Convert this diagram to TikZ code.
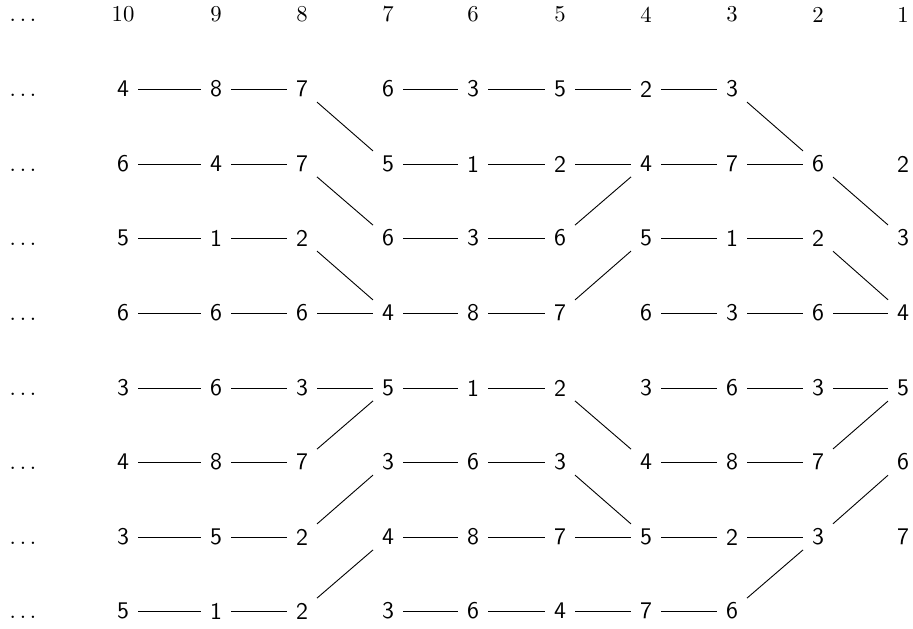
\documentclass[tikz,border=0pt]{standalone}
\begin{document}
\tikzset{
  num/.style={font=\sffamily\fontsize{10.5}{12}\selectfont, inner sep=0pt, minimum width=12.8pt, minimum height=12.4pt},
  hdr/.style={font=\rmfamily, inner sep=0pt},
  link/.style={line width=0.4pt},
}
\begin{tikzpicture}[x=0.44pt,y=-0.44pt]
\useasboundingbox (0,0) rectangle (913,628);
\coordinate (dotx) at (23,0);
\coordinate (hrow) at (0,14.5);
\foreach \c/\x in {10/123,9/216,8/302,7/388,6/473,5/560,4/646,3/732,2/818,1/903}
  \coordinate (col\c) at (\x,0);
\foreach \r/\y in {1/89,2/164,3/238,4/313,5/388,6/462,7/537,8/611}
  \coordinate (row\r) at (0,\y);
% header
\foreach \c in {10,9,...,1}
  \node[hdr] (h\c) at (col\c |- hrow) {\c};
\node[hdr, anchor=base] (d0) at (dotx |- h10.base) {$\ldots$};
% rows
\foreach \c/\v in {10/4,9/8,8/7,7/6,6/3,5/5,4/2,3/3}
  \node[num] (n1-\c) at (col\c |- row1) {\v};
\foreach \c/\v in {10/6,9/4,8/7,7/5,6/1,5/2,4/4,3/7,2/6,1/2}
  \node[num] (n2-\c) at (col\c |- row2) {\v};
\foreach \c/\v in {10/5,9/1,8/2,7/6,6/3,5/6,4/5,3/1,2/2,1/3}
  \node[num] (n3-\c) at (col\c |- row3) {\v};
\foreach \c/\v in {10/6,9/6,8/6,7/4,6/8,5/7,4/6,3/3,2/6,1/4}
  \node[num] (n4-\c) at (col\c |- row4) {\v};
\foreach \c/\v in {10/3,9/6,8/3,7/5,6/1,5/2,4/3,3/6,2/3,1/5}
  \node[num] (n5-\c) at (col\c |- row5) {\v};
\foreach \c/\v in {10/4,9/8,8/7,7/3,6/6,5/3,4/4,3/8,2/7,1/6}
  \node[num] (n6-\c) at (col\c |- row6) {\v};
\foreach \c/\v in {10/3,9/5,8/2,7/4,6/8,5/7,4/5,3/2,2/3,1/7}
  \node[num] (n7-\c) at (col\c |- row7) {\v};
\foreach \c/\v in {10/5,9/1,8/2,7/3,6/6,5/4,4/7,3/6}
  \node[num] (n8-\c) at (col\c |- row8) {\v};
% dots
\foreach \r in {1,...,8}
  \node[hdr, anchor=base] (d\r) at (dotx |- n\r-10.base) {$\ldots$};
% horizontal links
\foreach \r/\a/\b in {
  1/10/9,1/9/8,1/7/6,1/6/5,1/5/4,1/4/3,
  2/10/9,2/9/8,2/7/6,2/6/5,2/5/4,2/4/3,2/3/2,
  3/10/9,3/9/8,3/7/6,3/6/5,3/4/3,3/3/2,
  4/10/9,4/9/8,4/8/7,4/7/6,4/6/5,4/4/3,4/3/2,4/2/1,
  5/10/9,5/9/8,5/8/7,5/7/6,5/6/5,5/4/3,5/3/2,5/2/1,
  6/10/9,6/9/8,6/7/6,6/6/5,6/4/3,6/3/2,
  7/10/9,7/9/8,7/7/6,7/6/5,7/5/4,7/4/3,7/3/2,
  8/10/9,8/9/8,8/7/6,8/6/5,8/5/4,8/4/3}
  \draw[link] (n\r-\a) -- (n\r-\b);
% diagonal links
\foreach \ra/\ca/\rb/\cb in {
  1/8/2/7, 1/3/2/2,
  2/8/3/7, 2/4/3/5, 2/2/3/1,
  3/8/4/7, 3/4/4/5, 3/2/4/1,
  5/7/6/8, 5/5/6/4, 5/1/6/2,
  6/7/7/8, 6/5/7/4, 6/1/7/2,
  7/7/8/8, 7/2/8/3}
  \draw[link] (n\ra-\ca) -- (n\rb-\cb);
\end{tikzpicture}
\end{document}
